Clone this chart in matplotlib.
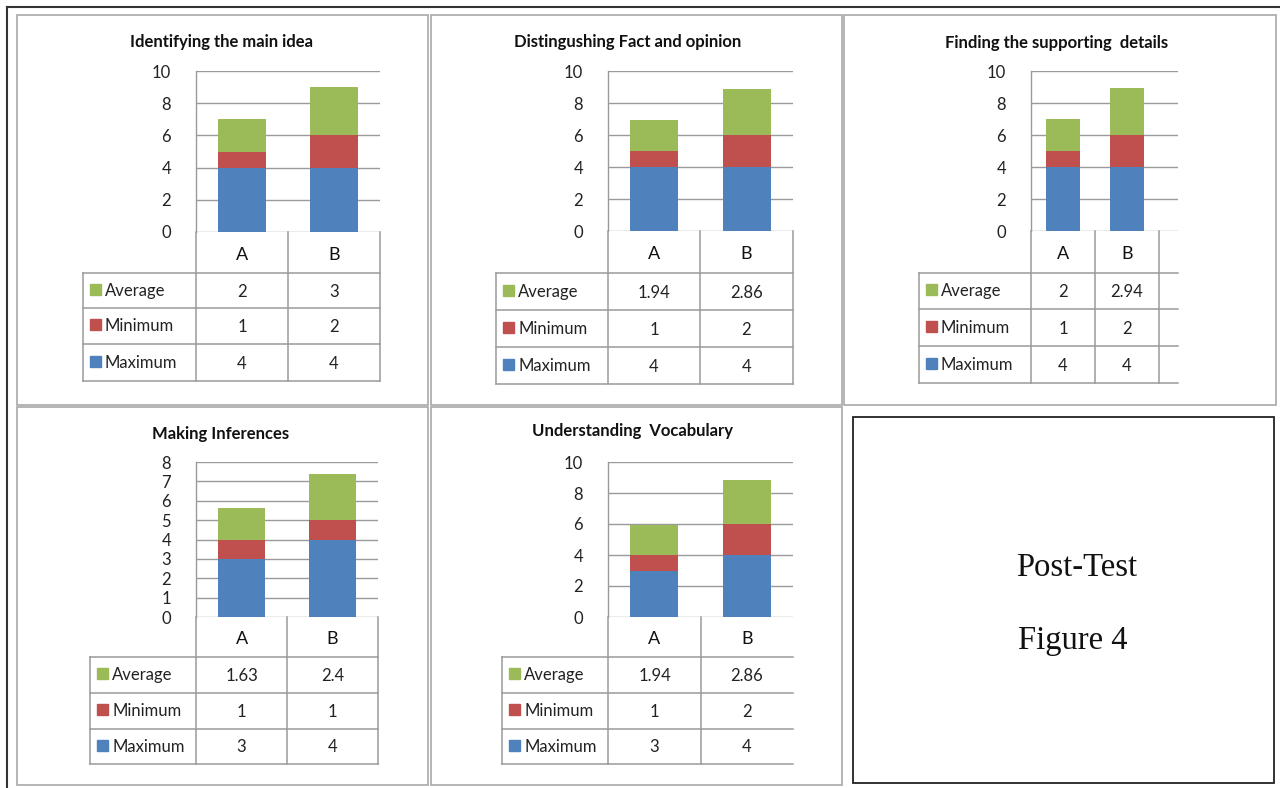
"""Post-test figure: five stacked-bar panels with data tables, Excel style."""
import matplotlib
matplotlib.use("Agg")
import matplotlib.pyplot as plt
from matplotlib.patches import Rectangle

W, H = 1280, 788

titles = ["Identifying the main idea", "Distingushing Fact and opinion",
          "Finding the supporting  details", "Making Inferences",
          "Understanding  Vocabulary"]
groups = ["A", "B"]
series = ["Maximum", "Minimum", "Average"]
maximum = [[4, 4], [4, 4], [4, 4], [3, 4], [3, 4]]
minimum = [[1, 2], [1, 2], [1, 2], [1, 1], [1, 2]]
average = [[2, 3], [1.94, 2.86], [2, 2.94], [1.63, 2.4], [1.94, 2.86]]
y_max = [10, 10, 10, 8, 10]
y_step = [2, 2, 2, 1, 2]

COLORS = {"Maximum": "#4F81BD", "Minimum": "#C0504D", "Average": "#9BBB59"}
GRID = "#9A9A9A"
FONT = "Lato"

# pixel layout of each panel: plot box, column edges, table rows, legend column
LAYOUT = [
    dict(box=(17, 15, 428, 405), ax=(196, 71, 380, 232), cols=[196, 288, 380], right=380,
         rows=[273, 308, 344, 381], leg=83, closed=True, title=(222, 42)),
    dict(box=(431, 15, 842, 405), ax=(608, 71, 793, 231), cols=[608, 700, 793], right=793,
         rows=[273, 310, 347, 384], leg=496, closed=True, title=(628, 42)),
    dict(box=(844, 15, 1276, 405), ax=(1031, 71, 1178, 231), cols=[1031, 1095, 1159], right=1178,
         rows=[273, 309, 346, 383], leg=919, closed=False, title=(1057, 43)),
    dict(box=(17, 407, 428, 785), ax=(196, 462, 378, 617), cols=[196, 287, 378], right=378,
         rows=[657, 693, 729, 764], leg=90, closed=True, title=(221, 434)),
    dict(box=(431, 407, 842, 785), ax=(608, 462, 793, 617), cols=[608, 701, 793], right=793,
         rows=[657, 693, 729, 764], leg=502, closed=False, title=(633, 431)),
]

fig = plt.figure(figsize=(W / 100, H / 100), dpi=100)

# overlay in pixel coordinates for frames and tables
ov = fig.add_axes([0, 0, 1, 1], zorder=5)
ov.set_xlim(0, W)
ov.set_ylim(H, 0)
ov.axis("off")
ov.patch.set_alpha(0)

ov.plot([7, 7], [7, H], color="#333333", lw=1.5)
ov.plot([7, W], [7, 7], color="#333333", lw=1.5)


def fmt(v):
    return f"{v:g}"


for i, lay in enumerate(LAYOUT):
    bx0, by0, bx1, by1 = lay["box"]
    ov.add_patch(Rectangle((bx0, by0), bx1 - bx0, by1 - by0, fill=False,
                           ec="#A8A8A8", lw=1.2))

    x0, y0, x1, y1 = lay["ax"]
    col_w = lay["cols"][1] - lay["cols"][0]
    extra = (lay["right"] - lay["cols"][-1]) / col_w
    ax = fig.add_axes([x0 / W, 1 - y1 / H, (x1 - x0) / W, (y1 - y0) / H])
    ax.set_xlim(-0.5, len(groups) - 0.5 + extra)
    ax.set_ylim(0, y_max[i])
    ax.set_yticks(range(0, y_max[i] + 1, y_step[i]))
    ax.set_xticks([])
    ax.tick_params(axis="y", length=0, pad=18, labelsize=12, labelcolor="#222222")
    for lab in ax.get_yticklabels():
        lab.set_fontfamily(FONT)
    ax.yaxis.grid(True, color=GRID, lw=1.0)
    ax.set_axisbelow(True)
    for s in ["top", "right", "bottom"]:
        ax.spines[s].set_visible(False)
    ax.spines["left"].set_color(GRID)
    ax.spines["left"].set_linewidth(1.0)

    xs = list(range(len(groups)))
    bottom = [0] * len(groups)
    vals = {"Maximum": maximum[i], "Minimum": minimum[i], "Average": average[i]}
    for name in series:
        ax.bar(xs, vals[name], 0.52, bottom=bottom, color=COLORS[name], zorder=3)
        bottom = [b + v for b, v in zip(bottom, vals[name])]

    tx, ty = lay["title"]
    ov.text(tx, ty, titles[i], ha="center", va="center", fontsize=12,
            fontweight="bold", family=FONT, color="#111111")

    # data table under the bars
    cols = lay["cols"]
    right = lay["right"]
    rows = lay["rows"]
    tc = "#9A9A9A"
    lw = 1.1
    # header row (category names)
    ov.plot([cols[0], cols[0]], [y1, rows[-1]], color=tc, lw=lw)
    for c in cols[1:]:
        if c == cols[-1] and not lay["closed"] and right == cols[-1]:
            continue
        ov.plot([c, c], [y1, rows[-1]], color=tc, lw=lw)
    for j, g in enumerate(groups):
        ov.text((cols[j] + cols[j + 1]) / 2, (y1 + rows[0]) / 2 + 2, g,
                ha="center", va="center", fontsize=13, family=FONT, color="#111111")
    # body rows
    leg = lay["leg"]
    for r in rows:
        ov.plot([leg, right], [r, r], color=tc, lw=lw)
    ov.plot([leg, leg], [rows[0], rows[-1]], color=tc, lw=lw)
    for k, name in enumerate(["Average", "Minimum", "Maximum"]):
        ya, yb = rows[k], rows[k + 1]
        ym = (ya + yb) / 2
        ov.add_patch(Rectangle((leg + 7, ym - 7), 11, 11, color=COLORS[name]))
        ov.text(leg + 22, ym, name, ha="left", va="center", fontsize=12,
                family=FONT, color="#222222")
        for j in range(len(groups)):
            ov.text((cols[j] + cols[j + 1]) / 2, ym + 1, fmt(vals[name][j]),
                    ha="center", va="center", fontsize=12, family=FONT, color="#222222")

# caption box
ov.add_patch(Rectangle((853, 417), 1274 - 853, 783 - 417, fill=False, ec="#222222", lw=1.3))
ov.text(1077, 568, "Post-Test", ha="center", va="center", fontsize=23.5,
        family="Liberation Serif", color="#111111")
ov.text(1073, 641, "Figure 4", ha="center", va="center", fontsize=23.5,
        family="Liberation Serif", color="#111111")

fig.savefig("out.png", dpi=100)
